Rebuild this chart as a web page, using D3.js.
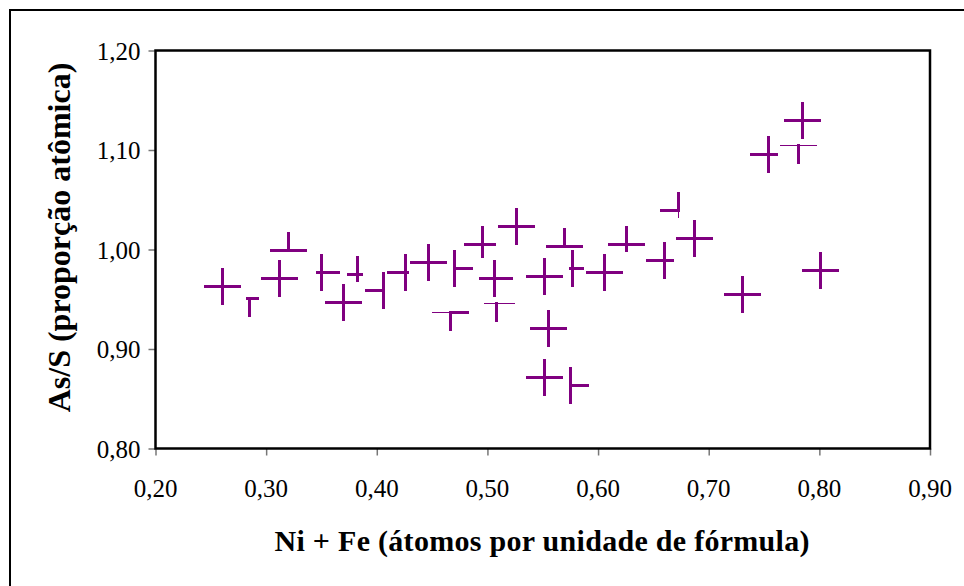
<!DOCTYPE html>
<html><head><meta charset="utf-8"><script src="https://cdn.jsdelivr.net/npm/d3@7"></script>
<style>
.ttl{font-family:"Liberation Serif","Times New Roman",serif;font-weight:bold;}
.tk{font-family:"Liberation Serif","Times New Roman",serif;font-size:25px;}
</style>
</head>
<body style="margin:0">
<svg id="chart" width="964" height="586"></svg>
<script>
// ---- data ----
const niFe = [0.2602,0.3199,0.3125,0.2854,0.3504,0.3703,0.3829,0.4064,0.4263,0.4470,
              0.4669,0.4705,0.4958,0.5066,0.5085,0.5265,0.5518,0.5554,0.5518,0.5753,
              0.5699,0.5771,0.6060,0.6259,0.6602,0.6873,0.6728,0.7306,0.8011,0.7541,
              0.7848,0.7812];
const asS  = [0.9630,0.9990,0.9711,0.9510,0.9771,0.9469,0.9751,0.9590,0.9771,0.9871,
              0.9367,0.9811,1.0052,0.9711,0.9462,1.0233,0.9731,0.9206,0.8716,0.8635,
              1.0032,0.9809,0.9771,1.0052,0.9891,1.0113,1.0394,0.9550,0.9789,1.0957,
              1.1296,1.1050];
// visible part of each marker arm [left,right,up,down] (negative = thin sliver)
const armVisible = [[1,1,1,1],[1,1,1,0],[1,1,1,1],[0.2,0.5,0,1],[0.3,1,1,1],[1,1,1,1],
  [0.6,0.3,1,0.4],[1,0,1,1],[1,0.15,1,1],[1,1,1,1],[-1,1,0,1],[0,1,1,1],[1,0.73,1,0.72],
  [0.84,1,1,1],[-0.7,-1,0,1],[1,1,1,1],[1,1,1,1],[1,1,1,1],[1,1,1,1],[0,1,1,1],
  [1,1,1,0],[0.2,0.6,1,1],[1,1,1,1],[1,1,1,0.4],[1,0.5,1,1],[1,1,1,1],[1,0,1,-0.4],
  [1,1,1,1],[1,1,1,1],[1,0.5,1,1],[1,1,1,1],[-1,-1,0,1]];
const xTickValues = [0.20,0.30,0.40,0.50,0.60,0.70,0.80,0.90];
const xTickLabels = ["0,20","0,30","0,40","0,50","0,60","0,70","0,80","0,90"];
const yTickValues = [0.80,0.90,1.00,1.10,1.20];
const yTickLabels = ["0,80","0,90","1,00","1,10","1,20"];
const xTitle = "Ni + Fe (átomos por unidade de fórmula)";
const yTitle = "As/S (proporção atômica)";

// ---- layout ----
const svg = d3.select("#chart");
const L = 155.5, R = 930, T = 50.5, B = 448.5;
const x = d3.scaleLinear().domain([0.2, 0.9]).range([L, R]);
const y = d3.scaleLinear().domain([0.8, 1.2]).range([B, T]);
const purple = "#800080";

svg.append("rect").attr("width",964).attr("height",586).attr("fill","#fff");
svg.append("path").attr("d","M10,590V10H970").attr("fill","none")
  .attr("stroke","#000").attr("stroke-width",2);

const gx = svg.append("g").attr("transform",`translate(0,${B})`)
  .call(d3.axisBottom(x).tickValues(xTickValues).tickFormat("").tickSize(7).tickSizeOuter(0));
gx.select(".domain").remove();
gx.selectAll(".tick line").attr("stroke","#777").attr("stroke-width",1.5);
xTickValues.forEach((v,i)=>{
  svg.append("text").attr("class","tk").attr("x",x(v)).attr("y",B+48.5)
    .attr("text-anchor","middle").text(xTickLabels[i]);
});

const gy = svg.append("g").attr("transform",`translate(${L},0)`)
  .call(d3.axisLeft(y).tickValues(yTickValues).tickFormat("").tickSize(7).tickSizeOuter(0));
gy.select(".domain").remove();
gy.selectAll(".tick line").attr("stroke","#777").attr("stroke-width",1.5);
yTickValues.forEach((v,i)=>{
  svg.append("text").attr("class","tk").attr("x",L-15).attr("y",y(v)+9)
    .attr("text-anchor","end").text(yTickLabels[i]);
});

svg.append("rect").attr("x",L).attr("y",T).attr("width",R-L).attr("height",B-T)
  .attr("fill","none").attr("stroke","#000").attr("stroke-width",2.5);

const arm = 18.5, thick = 3;
const pts = niFe.map((v,i)=>({x:v, y:asS[i], a:armVisible[i]}));
const gm = svg.append("g").attr("fill",purple).attr("shape-rendering","crispEdges");
pts.forEach(p=>{
  const cx = x(p.x), cy = y(p.y);
  const [l,r,u,d] = p.a;
  const hw = v => Math.abs(v)*arm, th = v => v<0 ? 1 : thick;
  if (l) gm.append("rect").attr("x",cx-hw(l)).attr("y",cy-th(l)/2)
           .attr("width",hw(l)+1.5).attr("height",th(l));
  if (r) gm.append("rect").attr("x",cx-1.5).attr("y",cy-th(r)/2)
           .attr("width",hw(r)+1.5).attr("height",th(r));
  if (u) gm.append("rect").attr("x",cx-th(u)/2).attr("y",cy-hw(u))
           .attr("width",th(u)).attr("height",hw(u)+1.5);
  if (d) gm.append("rect").attr("x",cx-th(d)/2).attr("y",cy-1.5)
           .attr("width",th(d)).attr("height",hw(d)+1.5);
});

svg.append("text").attr("class","ttl").attr("x",542).attr("y",551).attr("text-anchor","middle")
  .attr("font-size",30).attr("textLength",535).attr("lengthAdjust","spacing").text(xTitle);
svg.append("text").attr("class","ttl").attr("transform","translate(69.5,237.5) rotate(-90)")
  .attr("text-anchor","middle").attr("font-size",32).text(yTitle);
</script>
</body></html>
